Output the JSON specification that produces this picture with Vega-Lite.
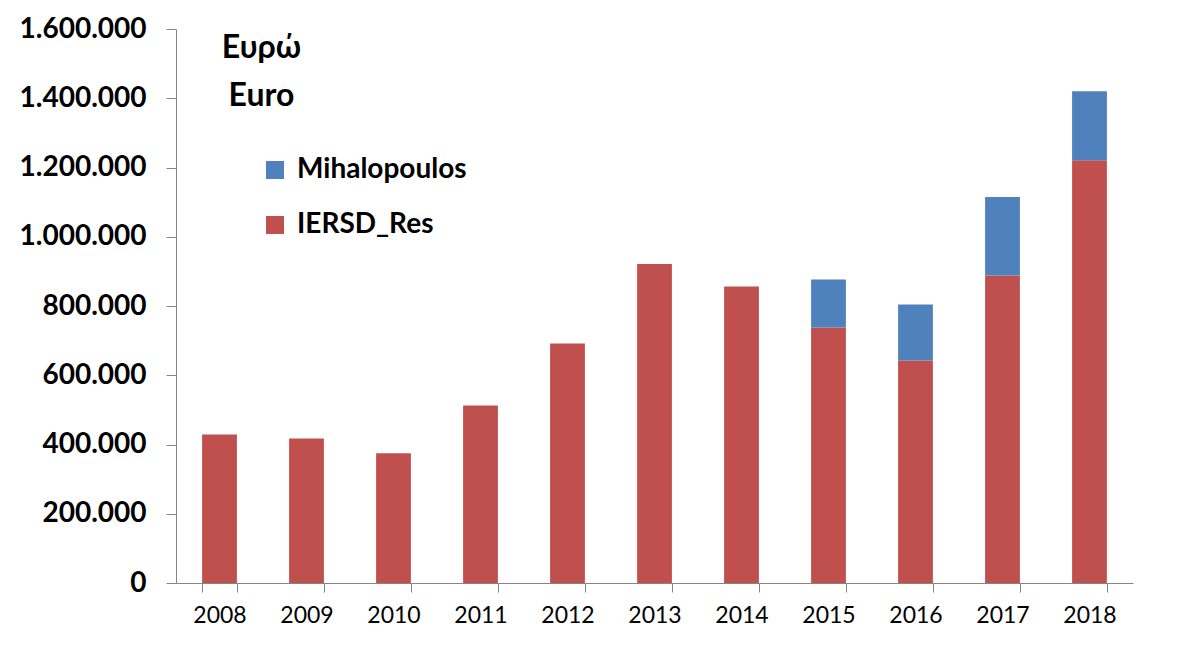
{
  "$schema": "https://vega.github.io/schema/vega-lite/v6.json",
  "width": 957,
  "height": 554,
  "autosize": "none",
  "padding": {"left": 176, "top": 29, "right": 48, "bottom": 88},
  "background": "white",
  "data": {
    "values": [
      {"year": "2008", "series": "IERSD_Res", "value": 428600},
      {"year": "2009", "series": "IERSD_Res", "value": 417000},
      {"year": "2010", "series": "IERSD_Res", "value": 374600},
      {"year": "2011", "series": "IERSD_Res", "value": 512300},
      {"year": "2012", "series": "IERSD_Res", "value": 691400},
      {"year": "2013", "series": "IERSD_Res", "value": 921300},
      {"year": "2014", "series": "IERSD_Res", "value": 856000},
      {"year": "2015", "series": "IERSD_Res", "value": 737600},
      {"year": "2016", "series": "IERSD_Res", "value": 642300},
      {"year": "2017", "series": "IERSD_Res", "value": 887800},
      {"year": "2018", "series": "IERSD_Res", "value": 1220800},
      {"year": "2015", "series": "Mihalopoulos", "value": 138600},
      {"year": "2016", "series": "Mihalopoulos", "value": 161700},
      {"year": "2017", "series": "Mihalopoulos", "value": 227000},
      {"year": "2018", "series": "Mihalopoulos", "value": 199300}
    ]
  },
  "mark": {"type": "bar"},
  "encoding": {
    "x": {
      "field": "year",
      "type": "ordinal",
      "scale": {"paddingInner": 0.6, "paddingOuter": 0.3},
      "axis": {
        "title": null,
        "labelAngle": 0,
        "labelFont": "Lato",
        "labelFontSize": 23,
        "labelColor": "black",
        "labelPadding": 12,
        "tickBand": "extent",
        "tickSize": 9,
        "tickColor": "#868686",
        "domainColor": "#868686",
        "grid": false
      }
    },
    "y": {
      "field": "value",
      "type": "quantitative",
      "stack": "zero",
      "scale": {"domain": [0, 1600000], "nice": false},
      "axis": {
        "title": ["Ευρώ", "Euro"],
        "titleAngle": 0,
        "titleX": 85,
        "titleY": 28,
        "titleAlign": "center",
        "titleBaseline": "alphabetic",
        "titleFont": "Lato",
        "titleFontSize": 32,
        "titleFontWeight": "bold",
        "titleColor": "black",
        "titleLineHeight": 48,
        "values": [0, 200000, 400000, 600000, 800000, 1000000, 1200000, 1400000, 1600000],
        "format": ",d",
        "labelFont": "Lato",
        "labelFontSize": 28,
        "labelFontWeight": "bold",
        "labelColor": "black",
        "labelPadding": 20,
        "tickSize": 10,
        "tickColor": "#868686",
        "domainColor": "#868686",
        "grid": false
      }
    },
    "color": {
      "field": "series",
      "type": "nominal",
      "scale": {"domain": ["Mihalopoulos", "IERSD_Res"], "range": ["#4F81BD", "#C0504D"]},
      "legend": {
        "title": null,
        "orient": "none",
        "legendX": 85,
        "legendY": 127,
        "padding": 0,
        "symbolType": "square",
        "symbolSize": 324,
        "symbolStrokeWidth": 0,
        "symbolOpacity": 1,
        "labelFont": "Lato",
        "labelFontSize": 28,
        "labelFontWeight": "bold",
        "labelColor": "black",
        "labelOffset": 8,
        "rowPadding": 27,
        "labelLimit": 400
      }
    },
    "order": {"field": "series", "sort": "ascending"}
  },
  "config": {
    "view": {"stroke": null},
    "locale": {
      "number": {"decimal": ",", "thousands": ".", "grouping": [3], "currency": ["", " €"]}
    }
  }
}
